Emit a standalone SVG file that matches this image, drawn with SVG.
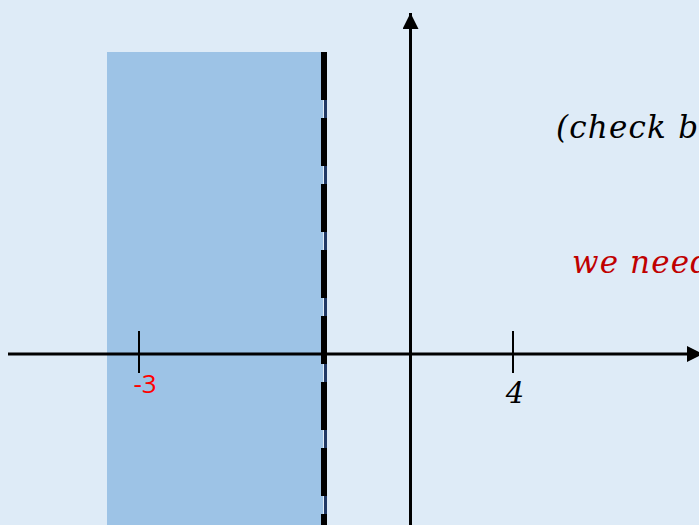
<svg xmlns="http://www.w3.org/2000/svg" width="699" height="525" viewBox="0 0 699 525">
  <style>
    .axis { stroke: #000000; stroke-width: 3; fill: none; }
    .tick { stroke: #000000; stroke-width: 2; }
    .math { font-family: "DejaVu Serif", "Liberation Serif", serif; font-style: italic; }
  </style>
  <defs>
    <marker id="arrow" markerUnits="userSpaceOnUse" markerWidth="17" markerHeight="17" refX="16" refY="8" orient="auto">
      <path d="M0,0 L16,8 L0,16 Z" fill="#000000"/>
    </marker>
  </defs>
  <rect x="0" y="0" width="699" height="525" fill="#DEEBF7"/>

  <g id="region">
    <rect x="107" y="52" width="216" height="473" fill="#9DC3E6"/>
  </g>

  <g id="boundary">
    <line x1="325.5" y1="52" x2="325.5" y2="525" stroke="#203864" stroke-width="3"/>
    <line x1="324" y1="52" x2="324" y2="525" stroke="#000000" stroke-width="6" stroke-dasharray="48 18"/>
  </g>

  <g id="connectors">
    <line class="axis" x1="8" y1="354" x2="703" y2="354" marker-end="url(#arrow)"/>
    <line class="axis" x1="410.5" y1="525" x2="410.5" y2="13" marker-end="url(#arrow)"/>
  </g>

  <g id="tick-neg3">
    <line class="tick" x1="139" y1="331" x2="139" y2="373"/>
    <text x="145" y="393" font-family="'Open Sans', 'Noto Sans', sans-serif" font-size="26" fill="#FF0000" text-anchor="middle">-3</text>
  </g>

  <g id="tick-4">
    <line class="tick" x1="513" y1="331" x2="513" y2="373"/>
    <text class="math" x="515" y="403" font-size="29" fill="#000000" text-anchor="middle">4</text>
  </g>

  <g id="label-check">
    <text class="math" x="556" y="138" font-size="31" fill="#000000" textLength="142" lengthAdjust="spacing">(check b</text>
  </g>

  <g id="label-need">
    <text class="math" x="572" y="273" font-size="31" fill="#C00000" textLength="138" lengthAdjust="spacing">we need</text>
  </g>
</svg>
